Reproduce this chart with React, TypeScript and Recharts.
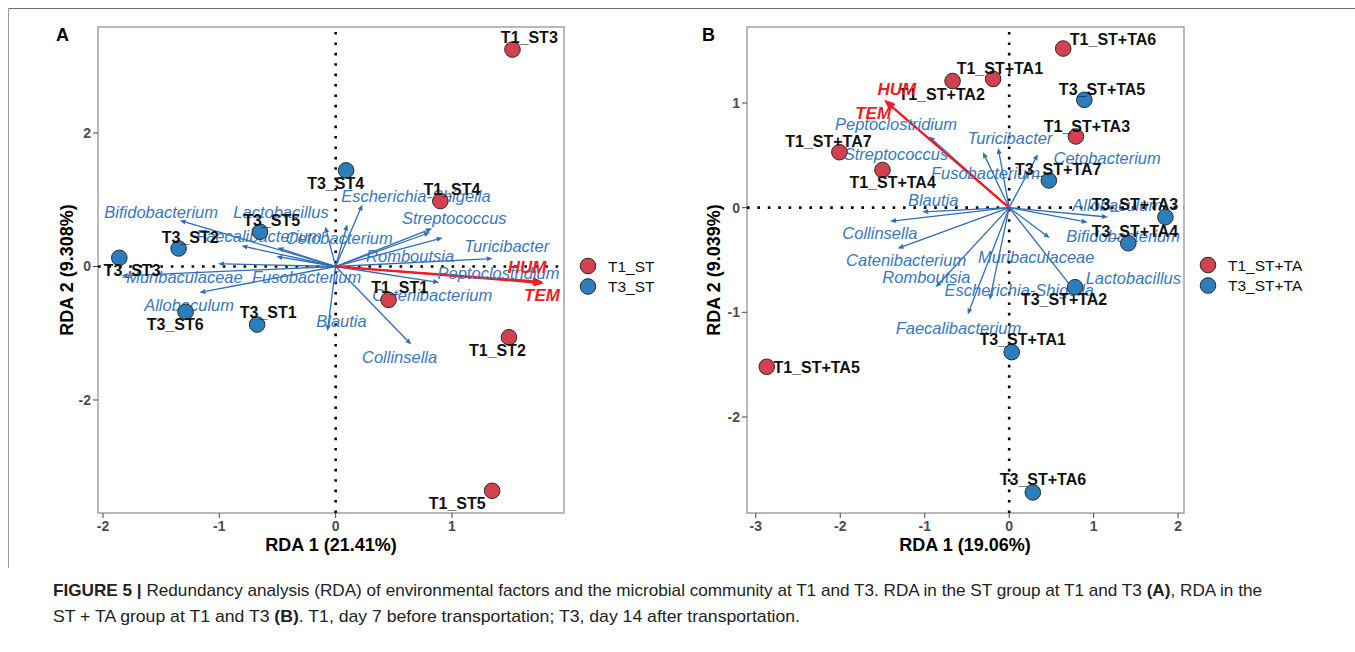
import React from "react";
import { ScatterChart, Scatter, XAxis, YAxis, ReferenceLine, ReferenceArea } from "recharts";

const RED = "#D3404F";
const BLUE = "#2C7DBC";
const SPECIES = "#2F6DB5";
const ENV = "#EE1D23";
const FONT = "'Liberation Sans', Arial, sans-serif";

// ---- panel A (ST group) ----
const groupsA = ["T1_ST", "T3_ST"];
const samplesA = [
  { name: "T1_ST3", group: "T1_ST", x: 1.52, y: 3.25 },
  { name: "T1_ST4", group: "T1_ST", x: 0.9, y: 0.98 },
  { name: "T1_ST1", group: "T1_ST", x: 0.455, y: -0.5 },
  { name: "T1_ST2", group: "T1_ST", x: 1.49, y: -1.06 },
  { name: "T1_ST5", group: "T1_ST", x: 1.345, y: -3.36 },
  { name: "T3_ST4", group: "T3_ST", x: 0.09, y: 1.44 },
  { name: "T3_ST3", group: "T3_ST", x: -1.86, y: 0.13 },
  { name: "T3_ST2", group: "T3_ST", x: -1.35, y: 0.27 },
  { name: "T3_ST5", group: "T3_ST", x: -0.65, y: 0.52 },
  { name: "T3_ST6", group: "T3_ST", x: -1.29, y: -0.68 },
  { name: "T3_ST1", group: "T3_ST", x: -0.675, y: -0.87 },
];
const sampleLabelsA = [
  { name: "T1_ST3", x: 1.665, y: 3.43 },
  { name: "T1_ST4", x: 1.0, y: 1.15 },
  { name: "T1_ST1", x: 0.55, y: -0.32 },
  { name: "T1_ST2", x: 1.39, y: -1.26 },
  { name: "T1_ST5", x: 1.045, y: -3.55 },
  { name: "T3_ST4", x: 0.0, y: 1.25 },
  { name: "T3_ST3", x: -1.75, y: -0.06 },
  { name: "T3_ST2", x: -1.25, y: 0.43 },
  { name: "T3_ST5", x: -0.55, y: 0.69 },
  { name: "T3_ST6", x: -1.38, y: -0.87 },
  { name: "T3_ST1", x: -0.58, y: -0.69 },
];
const speciesTipsA = [
  { x: -1.34, y: 0.69 }, { x: -0.81, y: 0.31 }, { x: -0.09, y: 0.6 },
  { x: 0.1, y: 0.63 }, { x: 0.23, y: 0.93 }, { x: 0.83, y: 0.57 },
  { x: 0.81, y: 0.51 }, { x: 0.92, y: 0.43 }, { x: 1.35, y: 0.12 },
  { x: 0.89, y: -0.24 }, { x: 0.65, y: -1.17 }, { x: -0.07, y: -0.97 },
  { x: -1.01, y: 0.04 }, { x: -1.84, y: -0.14 }, { x: -1.17, y: -0.39 },
  { x: -0.51, y: 0.15 }, { x: -0.5, y: 0.28 },
];
const speciesLabelsA = [
  { name: "Bifidobacterium", x: -1.5, y: 0.81 },
  { name: "Lactobacillus", x: -0.47, y: 0.81 },
  { name: "Faecalibacterium", x: -0.66, y: 0.45 },
  { name: "Cetobacterium", x: 0.03, y: 0.42 },
  { name: "Escherichia-Shigella", x: 0.69, y: 1.05 },
  { name: "Streptococcus", x: 1.02, y: 0.73 },
  { name: "Turicibacter", x: 1.47, y: 0.31 },
  { name: "Romboutsia", x: 0.64, y: 0.16 },
  { name: "Peptoclostridium", x: 1.4, y: -0.1 },
  { name: "Catenibacterium", x: 0.83, y: -0.43 },
  { name: "Collinsella", x: 0.55, y: -1.36 },
  { name: "Blautia", x: 0.05, y: -0.81 },
  { name: "Fusobacterium", x: -0.25, y: -0.15 },
  { name: "Muribaculaceae", x: -1.3, y: -0.15 },
  { name: "Allobaculum", x: -1.26, y: -0.57 },
];
const envA = [
  { name: "HUM", x: 1.78, y: -0.23, lx: 1.645, ly: -0.02 },
  { name: "TEM", x: 1.79, y: -0.25, lx: 1.774, ly: -0.43 },
];

// ---- panel B (ST+TA group) ----
const groupsB = ["T1_ST+TA", "T3_ST+TA"];
const samplesB = [
  { name: "T1_ST+TA6", group: "T1_ST+TA", x: 0.64, y: 1.52 },
  { name: "T1_ST+TA1", group: "T1_ST+TA", x: -0.19, y: 1.23 },
  { name: "T1_ST+TA2", group: "T1_ST+TA", x: -0.67, y: 1.21 },
  { name: "T1_ST+TA3", group: "T1_ST+TA", x: 0.79, y: 0.68 },
  { name: "T1_ST+TA7", group: "T1_ST+TA", x: -2.01, y: 0.53 },
  { name: "T1_ST+TA4", group: "T1_ST+TA", x: -1.5, y: 0.36 },
  { name: "T1_ST+TA5", group: "T1_ST+TA", x: -2.87, y: -1.52 },
  { name: "T3_ST+TA5", group: "T3_ST+TA", x: 0.89, y: 1.03 },
  { name: "T3_ST+TA7", group: "T3_ST+TA", x: 0.47, y: 0.26 },
  { name: "T3_ST+TA3", group: "T3_ST+TA", x: 1.85, y: -0.09 },
  { name: "T3_ST+TA4", group: "T3_ST+TA", x: 1.41, y: -0.34 },
  { name: "T3_ST+TA2", group: "T3_ST+TA", x: 0.78, y: -0.76 },
  { name: "T3_ST+TA1", group: "T3_ST+TA", x: 0.03, y: -1.38 },
  { name: "T3_ST+TA6", group: "T3_ST+TA", x: 0.28, y: -2.72 },
];
const sampleLabelsB = [
  { name: "T1_ST+TA6", x: 1.23, y: 1.61 },
  { name: "T1_ST+TA1", x: -0.11, y: 1.33 },
  { name: "T1_ST+TA2", x: -0.8, y: 1.08 },
  { name: "T1_ST+TA3", x: 0.92, y: 0.78 },
  { name: "T1_ST+TA7", x: -2.14, y: 0.63 },
  { name: "T1_ST+TA4", x: -1.38, y: 0.24 },
  { name: "T1_ST+TA5", x: -2.28, y: -1.53 },
  { name: "T3_ST+TA5", x: 1.1, y: 1.13 },
  { name: "T3_ST+TA7", x: 0.58, y: 0.36 },
  { name: "T3_ST+TA3", x: 1.49, y: 0.03 },
  { name: "T3_ST+TA4", x: 1.49, y: -0.23 },
  { name: "T3_ST+TA2", x: 0.65, y: -0.88 },
  { name: "T3_ST+TA1", x: 0.16, y: -1.26 },
  { name: "T3_ST+TA6", x: 0.4, y: -2.6 },
];
const speciesTipsB = [
  { x: -0.95, y: 0.68 }, { x: -0.31, y: 0.53 }, { x: -0.13, y: 0.57 },
  { x: 0.34, y: 0.51 }, { x: -1.03, y: -0.04 }, { x: -1.41, y: -0.13 },
  { x: -1.32, y: -0.39 }, { x: -0.87, y: -0.76 }, { x: -0.23, y: -0.88 },
  { x: -0.49, y: -1.02 }, { x: 0.48, y: -0.29 }, { x: 1.17, y: -0.09 },
  { x: 0.93, y: -0.14 }, { x: 0.77, y: -0.79 },
];
const speciesLabelsB = [
  { name: "Peptoclostridium", x: -1.34, y: 0.8 },
  { name: "Streptococcus", x: -1.34, y: 0.51 },
  { name: "Turicibacter", x: 0.01, y: 0.67 },
  { name: "Cetobacterium", x: 1.16, y: 0.47 },
  { name: "Fusobacterium", x: -0.28, y: 0.33 },
  { name: "Blautia", x: -0.9, y: 0.07 },
  { name: "Collinsella", x: -1.53, y: -0.24 },
  { name: "Catenibacterium", x: -1.22, y: -0.5 },
  { name: "Romboutsia", x: -0.98, y: -0.66 },
  { name: "Muribaculaceae", x: 0.32, y: -0.47 },
  { name: "Escherichia-Shigella", x: 0.12, y: -0.79 },
  { name: "Faecalibacterium", x: -0.6, y: -1.15 },
  { name: "Allobaculum", x: 1.28, y: 0.03 },
  { name: "Bifidobacterium", x: 1.35, y: -0.27 },
  { name: "Lactobacillus", x: 1.47, y: -0.67 },
];
const envB = [
  { name: "HUM", x: -1.48, y: 1.03, lx: -1.33, ly: 1.13 },
  { name: "TEM", x: -1.47, y: 1.02, lx: -1.61, ly: 0.9 },
];

const ticksA = { x: [-2, -1, 0, 1], y: [-2, 0, 2] };
const ticksB = { x: [-3, -2, -1, 0, 1, 2], y: [-2, -1, 0, 1] };

const arrow = (color: string, width: number, head: number) => (props: any) => {
  const { x1, y1, x2, y2 } = props;
  if (x1 == null || x2 == null) return <g />;
  const a = Math.atan2(y2 - y1, x2 - x1);
  const bx = x2 - head * Math.cos(a);
  const by = y2 - head * Math.sin(a);
  const w = head * 0.42;
  const px = -Math.sin(a) * w;
  const py = Math.cos(a) * w;
  return (
    <g>
      <line x1={x1} y1={y1} x2={bx} y2={by} stroke={color} strokeWidth={width} />
      <polygon points={`${x2},${y2} ${bx + px},${by + py} ${bx - px},${by - py}`} fill={color} />
    </g>
  );
};

const label = (style: any) => (props: any) => (
  <text
    x={props.cx}
    y={props.cy}
    textAnchor="middle"
    dominantBaseline="central"
    fontFamily={FONT}
    {...style}
  >
    {props.payload.name}
  </text>
);

const dot = (color: string) => (props: any) => (
  <circle cx={props.cx} cy={props.cy} r={7.8} fill={color} stroke="#2b2b2b" strokeWidth={1} />
);

function Panel(p: any) {
  const { samples, groups, sampleLabels, tips, speciesLabels, env, xDom, yDom, ticks, margin, width } = p;
  return (
    <ScatterChart width={width} height={560} margin={margin}>
      <XAxis
        type="number"
        dataKey="x"
        domain={xDom}
        ticks={ticks.x}
        allowDataOverflow
        axisLine={false}
        tickSize={5}
        tickMargin={3}
        height={40}
        tickLine={{ stroke: "#444" }}
        tick={{ fill: "#4d4d4d", fontSize: 14, fontWeight: "bold", fontFamily: FONT }}
      />
      <YAxis
        type="number"
        dataKey="y"
        domain={yDom}
        ticks={ticks.y}
        allowDataOverflow
        axisLine={false}
        tickSize={5}
        tickMargin={2}
        width={50}
        tickLine={{ stroke: "#444" }}
        tick={{ fill: "#4d4d4d", fontSize: 14, fontWeight: "bold", fontFamily: FONT }}
      />
      <ReferenceArea
        x1={xDom[0]}
        x2={xDom[1]}
        y1={yDom[0]}
        y2={yDom[1]}
        ifOverflow="visible"
        fill="none"
        stroke="#a3a3a3"
        strokeWidth={1.5}
      />
      <ReferenceLine x={0} stroke="#000" strokeWidth={2.6} strokeDasharray="2.6 7.8" />
      <ReferenceLine y={0} stroke="#000" strokeWidth={2.6} strokeDasharray="2.6 7.8" />
      {tips.map((t: any, i: number) => (
        <ReferenceLine
          key={"s" + i}
          segment={[{ x: 0, y: 0 }, { x: t.x, y: t.y }]}
          ifOverflow="visible"
          shape={arrow(SPECIES, 1.3, 6)}
        />
      ))}
      <Scatter
        data={speciesLabels}
        isAnimationActive={false}
        shape={label({ fill: "#3a77bb", fontSize: 16.5, fontStyle: "italic" })}
      />
      {env.map((e: any) => (
        <ReferenceLine
          key={e.name}
          segment={[{ x: 0, y: 0 }, { x: e.x, y: e.y }]}
          ifOverflow="visible"
          shape={arrow(ENV, 2, 10)}
        />
      ))}
      {groups.map((g: string, i: number) => (
        <Scatter
          key={g}
          data={samples.filter((s: any) => s.group === g)}
          isAnimationActive={false}
          shape={dot(i === 0 ? RED : BLUE)}
        />
      ))}
      <Scatter
        data={sampleLabels}
        isAnimationActive={false}
        shape={label({ fill: "#111", fontSize: 16, fontWeight: "bold" })}
      />
      <Scatter
        data={env.map((e: any) => ({ name: e.name, x: e.lx, y: e.ly }))}
        isAnimationActive={false}
        shape={label({ fill: ENV, fontSize: 17, fontWeight: "bold", fontStyle: "italic" })}
      />
    </ScatterChart>
  );
}

function Legend({ groups, x, y }: any) {
  return (
    <g>
      {groups.map((g: string, i: number) => (
        <g key={g}>
          <circle cx={x} cy={y + i * 20.5} r={7.8} fill={i === 0 ? RED : BLUE} stroke="#2b2b2b" strokeWidth={1} />
          <text x={x + 20} y={y + i * 20.5} dominantBaseline="central" fontSize={15.5} fontFamily={FONT} fill="#111">
            {g}
          </text>
        </g>
      ))}
    </g>
  );
}

export default function App() {
  return (
    <div style={{ position: "fixed", left: 0, top: 0, width: 1355, height: 652, background: "#fff", fontFamily: FONT }}>
      <div style={{ position: "absolute", left: 0, top: 0 }}>
        <Panel
          samples={samplesA}
          groups={groupsA}
          sampleLabels={sampleLabelsA}
          tips={speciesTipsA}
          speciesLabels={speciesLabelsA}
          env={envA}
          xDom={[-2.043, 1.963]}
          yDom={[-3.693, 3.588]}
          ticks={ticksA}
          width={600}
          margin={{ top: 27, right: 36, bottom: 7, left: 48 }}
        />
      </div>
      <div style={{ position: "absolute", left: 690, top: 0 }}>
        <Panel
          samples={samplesB}
          groups={groupsB}
          sampleLabels={sampleLabelsB}
          tips={speciesTipsB}
          speciesLabels={speciesLabelsB}
          env={envB}
          xDom={[-3.104, 2.07]}
          yDom={[-2.917, 1.726]}
          ticks={ticksB}
          width={520}
          margin={{ top: 27, right: 26, bottom: 7, left: 7 }}
        />
      </div>
      <svg width={1355} height={652} style={{ position: "absolute", left: 0, top: 0, pointerEvents: "none" }}>
        <line x1={8} y1={8.5} x2={1355} y2={8.5} stroke="#6e6e6e" strokeWidth={1} />
        <line x1={8.5} y1={8} x2={8.5} y2={568} stroke="#9a9a9a" strokeWidth={1} />
        <text x={56} y={41} fontSize={18} fontWeight="bold" fontFamily={FONT}>A</text>
        <text x={702} y={41} fontSize={18} fontWeight="bold" fontFamily={FONT}>B</text>
        <text x={331} y={545} textAnchor="middle" dominantBaseline="central" fontSize={18} fontWeight="bold" fontFamily={FONT}>
          RDA 1 (21.41%)
        </text>
        <text x={965} y={545} textAnchor="middle" dominantBaseline="central" fontSize={18} fontWeight="bold" fontFamily={FONT}>
          RDA 1 (19.06%)
        </text>
        <text
          transform="translate(67,270) rotate(-90)"
          textAnchor="middle"
          dominantBaseline="central"
          fontSize={18}
          fontWeight="bold"
          fontFamily={FONT}
        >
          RDA 2 (9.308%)
        </text>
        <text
          transform="translate(714,270) rotate(-90)"
          textAnchor="middle"
          dominantBaseline="central"
          fontSize={18}
          fontWeight="bold"
          fontFamily={FONT}
        >
          RDA 2 (9.039%)
        </text>
        <Legend groups={groupsA} x={588} y={266} />
        <Legend groups={groupsB} x={1208} y={265} />
        <text
          x={53}
          y={596}
          fontSize={17}
          fill="#222"
          fontFamily="'Liberation Sans Narrow', 'Arial Narrow', 'Liberation Sans', sans-serif"
          textLength={1209}
          lengthAdjust="spacingAndGlyphs"
        >
          <tspan fontWeight="bold">FIGURE 5 | </tspan>
          Redundancy analysis (RDA) of environmental factors and the microbial community at T1 and T3. RDA in the ST group at T1 and T3{" "}
          <tspan fontWeight="bold">(A)</tspan>, RDA in the
        </text>
        <text
          x={53}
          y={622}
          fontSize={17}
          fill="#222"
          fontFamily="'Liberation Sans Narrow', 'Arial Narrow', 'Liberation Sans', sans-serif"
          textLength={747}
          lengthAdjust="spacingAndGlyphs"
        >
          ST + TA group at T1 and T3 <tspan fontWeight="bold">(B)</tspan>. T1, day 7 before transportation; T3, day 14 after transportation.
        </text>
      </svg>
    </div>
  );
}
